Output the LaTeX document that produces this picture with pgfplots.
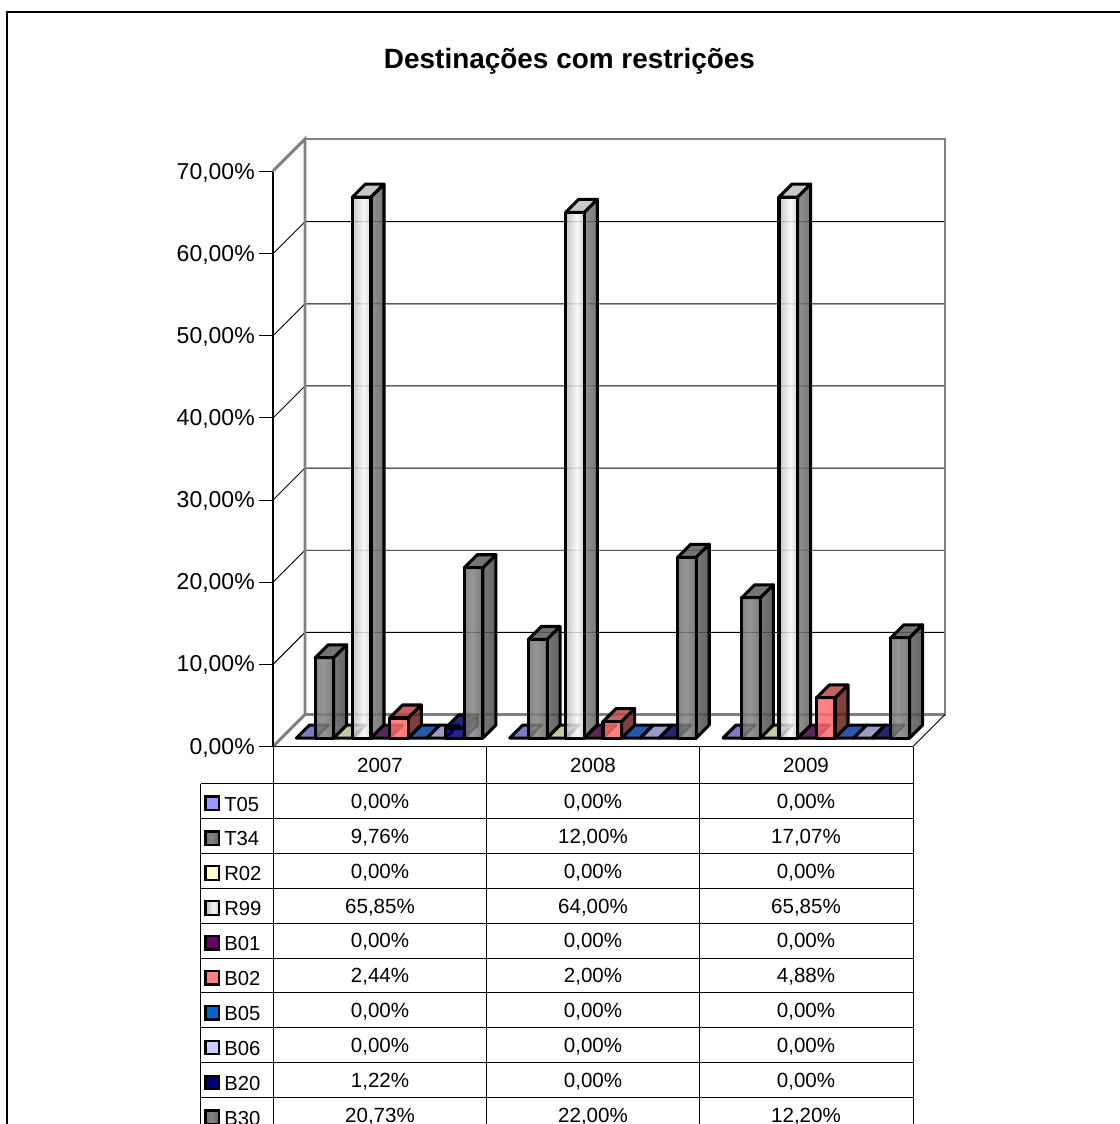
\documentclass[border=0pt]{standalone}
\usepackage{fontspec}
\setmainfont{Liberation Sans}
\usepackage{pgfplots}
\pgfplotsset{compat=1.18}

\definecolor{frontB02}{RGB}{255,106,106}
\definecolor{sideB02}{RGB}{106,31,31}
\definecolor{frontB20}{RGB}{0,0,106}
\definecolor{sideB20}{RGB}{0,0,80}

% Face shadings of the 3D columns
\pgfdeclarehorizontalshading{grayfront}{100bp}{color(0bp)=(black!66); color(45bp)=(black!48); color(100bp)=(black!70)}
\pgfdeclarehorizontalshading{grayside}{100bp}{color(0bp)=(black!58); color(100bp)=(black!76)}
\pgfdeclarehorizontalshading{silverfront}{100bp}{color(0bp)=(black!45); color(55bp)=(black!3); color(100bp)=(black!42)}
\pgfdeclarehorizontalshading{silverside}{100bp}{color(0bp)=(black!45); color(100bp)=(black!68)}
\pgfdeclarehorizontalshading{pinkfront}{100bp}{color(0bp)=(frontB02); color(100bp)=(frontB02)}
\pgfdeclarehorizontalshading{pinkside}{100bp}{color(0bp)=(sideB02); color(100bp)=(sideB02)}
\pgfdeclarehorizontalshading{navyfront}{100bp}{color(0bp)=(frontB20); color(100bp)=(frontB20)}
\pgfdeclarehorizontalshading{navyside}{100bp}{color(0bp)=(sideB20); color(100bp)=(sideB20)}

\definecolor{topT05}{RGB}{99,99,191}
\definecolor{topGray}{RGB}{92,92,92}
\definecolor{topR02}{RGB}{190,190,143}
\definecolor{topR99}{RGB}{190,190,190}
\definecolor{topB01}{RGB}{61,0,61}
\definecolor{topB02}{RGB}{186,70,70}
\definecolor{topB05}{RGB}{0,60,160}
\definecolor{topB06}{RGB}{138,138,190}
\definecolor{topB20}{RGB}{0,0,85}
\definecolor{keyT05}{RGB}{153,153,255}
\definecolor{keyR02}{RGB}{255,255,204}
\definecolor{keyB01}{RGB}{102,0,102}
\definecolor{keyB02}{RGB}{255,128,128}
\definecolor{keyB05}{RGB}{0,102,204}
\definecolor{keyB06}{RGB}{204,204,255}
\definecolor{keyB20}{RGB}{0,0,128}
\definecolor{wall}{RGB}{128,128,128}

% One column: #1 year index, #2 series index, #3 value in percent,
% #4 top colour, #5 front shading, #6 side shading
\newcommand{\column}[6]{%
  \pgfmathsetmacro\BarL{#1+(23.4+18.65*#2)/213.33}%
  \pgfmathsetmacro\BarR{\BarL+18.65/213.33}%
  \pgfmathsetmacro\BarLb{\BarL+13/213.33}%
  \pgfmathsetmacro\BarRb{\BarR+13/213.33}%
  \pgfmathsetmacro\BarB{1.03}%
  \pgfmathsetmacro\BarT{#3+1.03}%
  \pgfmathsetmacro\BarBb{\BarB+1.583}%
  \pgfmathsetmacro\BarTb{\BarT+1.583}%
  \addplot[draw=black,line width=2.3pt,line join=round,fill=#4,fill opacity=.85]
    coordinates {(\BarL,\BarT)(\BarLb,\BarTb)(\BarRb,\BarTb)(\BarR,\BarT)} -- cycle;
  \ifdim #3pt>0pt
    \addplot[draw=black,line width=2.3pt,line join=round,shade,shading=#6,fill opacity=.85]
      coordinates {(\BarR,\BarB)(\BarRb,\BarBb)(\BarRb,\BarTb)(\BarR,\BarT)} -- cycle;
    \addplot[draw=black,line width=2.3pt,line join=round,shade,shading=#5,fill opacity=.85]
      coordinates {(\BarL,\BarB)(\BarR,\BarB)(\BarR,\BarT)(\BarL,\BarT)} -- cycle;
  \fi
}

% Nine of the ten series of one year: year index, T34, R99, B02, B20
\newcommand{\yeargroup}[5]{%
  \column{#1}{0}{0}{topT05}{grayfront}{grayside}
  \column{#1}{1}{#2}{topGray}{grayfront}{grayside}
  \column{#1}{2}{0}{topR02}{grayfront}{grayside}
  \column{#1}{3}{#3}{topR99}{silverfront}{silverside}
  \column{#1}{4}{0}{topB01}{grayfront}{grayside}
  \column{#1}{5}{#4}{topB02}{pinkfront}{pinkside}
  \column{#1}{6}{0}{topB05}{grayfront}{grayside}
  \column{#1}{7}{0}{topB06}{grayfront}{grayside}
  \column{#1}{8}{#5}{topB20}{navyfront}{navyside}
}

% Row of the data table: row index, label, three values
\newcommand{\tablerow}[5]{%
  \pgfmathsetmacro\RowB{808.3+34.9*#1}%
  \pgfmathsetmacro\RowL{811+34.9*#1}%
  \node[anchor=base west,inner sep=0pt,font=\fontsize{15.2}{18}\selectfont] at (224,\RowL) {#2};
  \node[anchor=base,inner sep=0pt,font=\fontsize{15.4}{18}\selectfont] at (380,\RowB) {#3};
  \node[anchor=base,inner sep=0pt,font=\fontsize{15.4}{18}\selectfont] at (593,\RowB) {#4};
  \node[anchor=base,inner sep=0pt,font=\fontsize{15.4}{18}\selectfont] at (806,\RowB) {#5};
}
% Legend key in the table's first column
\newcommand{\tablekey}[2]{%
  \pgfmathsetmacro\KeyY{796.5+34.9*#1}%
  \path[draw=black,line width=1.7pt,#2] (205.5,\KeyY) rectangle ++(13.5,13.5);
}

\begin{document}
\begin{tikzpicture}
\begin{scope}[x=0.75pt,y=-0.75pt]
  \clip (0,0) rectangle (1120,1124);
  \path[use as bounding box] (0,0) rectangle (1120,1124);
  % frame of the chart area
  \draw[black,line width=1.1pt] (7,1130) -- (7,12) -- (1130,12);
  \node[font=\fontsize{20.95}{24}\bfseries\selectfont,anchor=base,inner sep=0pt] at (569.5,69) {Destinações com restrições};
  % grid lines on the side and back walls
  \foreach \k in {1,...,6} {
    \pgfmathsetmacro\gy{714.5-82.14*\k}
    \pgfmathsetmacro\gf{746.5-82.14*\k}
    \draw[black,line width=0.7pt] (273,\gf) -- (305,\gy) -- (945,\gy);
  }
  % outline of the walls
  \draw[wall,line width=2.2pt,line join=miter] (273,746.5) -- (305,714.5) -- (305,139) -- (273,171);
  \draw[wall,line width=2.2pt] (305,139) -- (945,139) -- (945,714.5) -- (305,714.5);
  \draw[black,line width=0.7pt] (913,746.5) -- (945,714.5);
\end{scope}

\begin{axis}[
  at={(204.75pt,-559.875pt)},anchor=south west,
  scale only axis,width=480pt,height=431.25pt,
  xmin=0,xmax=3,ymin=0,ymax=70,
  clip=false,
  axis x line=none,
  axis y line*=left,
  axis line style={black,line width=0.8pt,-},
  ytick={0,10,...,70},
  tick align=outside,
  major tick length=10.5pt,
  tick style={black,line width=0.8pt},
  yticklabel style={font=\fontsize{17.25}{20}\selectfont,inner sep=0pt,xshift=-3pt,yshift=-0.8pt},
  yticklabel={\pgfmathprintnumber[fixed,fixed zerofill,precision=2,use comma,assume math mode=true]{\tick}\%},
]
  % year index, T34, R99, B02, B20, then B30
  \yeargroup{0}{9.76}{65.85}{2.44}{1.22}
  \column{0}{9}{20.73}{topGray}{grayfront}{grayside}
  \yeargroup{1}{12.00}{64.00}{2.00}{0}
  \column{1}{9}{22.00}{topGray}{grayfront}{grayside}
  \yeargroup{2}{17.07}{65.85}{4.88}{0}
  \column{2}{9}{12.20}{topGray}{grayfront}{grayside}
\end{axis}

\begin{scope}[x=0.75pt,y=-0.75pt]
  \clip (0,0) rectangle (1120,1124);
  % table rules
  \draw[black,line width=0.7pt] (273,746.5) -- (913,746.5);
  \foreach \k in {0,...,9} {
    \pgfmathsetmacro\ry{783.5+34.9*\k}
    \draw[black,line width=0.7pt] (200.5,\ry) -- (913,\ry);
  }
  \draw[black,line width=0.7pt] (200.5,783.5) -- (200.5,1130);
  \foreach \cx in {273,486.5,699.5,913}
    \draw[black,line width=0.7pt] (\cx,746.5) -- (\cx,1130);
  % year headers
  \foreach \cx/\yr in {380/2007,593/2008,806/2009}
    \node[anchor=base,inner sep=0pt,font=\fontsize{15.4}{18}\selectfont] at (\cx,772) {\yr};
  % table body
  \tablerow{0}{T05}{0,00\%}{0,00\%}{0,00\%}
  \tablerow{1}{T34}{9,76\%}{12,00\%}{17,07\%}
  \tablerow{2}{R02}{0,00\%}{0,00\%}{0,00\%}
  \tablerow{3}{R99}{65,85\%}{64,00\%}{65,85\%}
  \tablerow{4}{B01}{0,00\%}{0,00\%}{0,00\%}
  \tablerow{5}{B02}{2,44\%}{2,00\%}{4,88\%}
  \tablerow{6}{B05}{0,00\%}{0,00\%}{0,00\%}
  \tablerow{7}{B06}{0,00\%}{0,00\%}{0,00\%}
  \tablerow{8}{B20}{1,22\%}{0,00\%}{0,00\%}
  \tablerow{9}{B30}{20,73\%}{22,00\%}{12,20\%}
  % legend keys
  \tablekey{0}{fill=keyT05}
  \tablekey{1}{shade,shading=grayfront}
  \tablekey{2}{fill=keyR02}
  \tablekey{3}{shade,shading=silverfront}
  \tablekey{4}{fill=keyB01}
  \tablekey{5}{fill=keyB02}
  \tablekey{6}{fill=keyB05}
  \tablekey{7}{fill=keyB06}
  \tablekey{8}{fill=keyB20}
  \tablekey{9}{shade,shading=grayfront}
\end{scope}
\end{tikzpicture}
\end{document}
